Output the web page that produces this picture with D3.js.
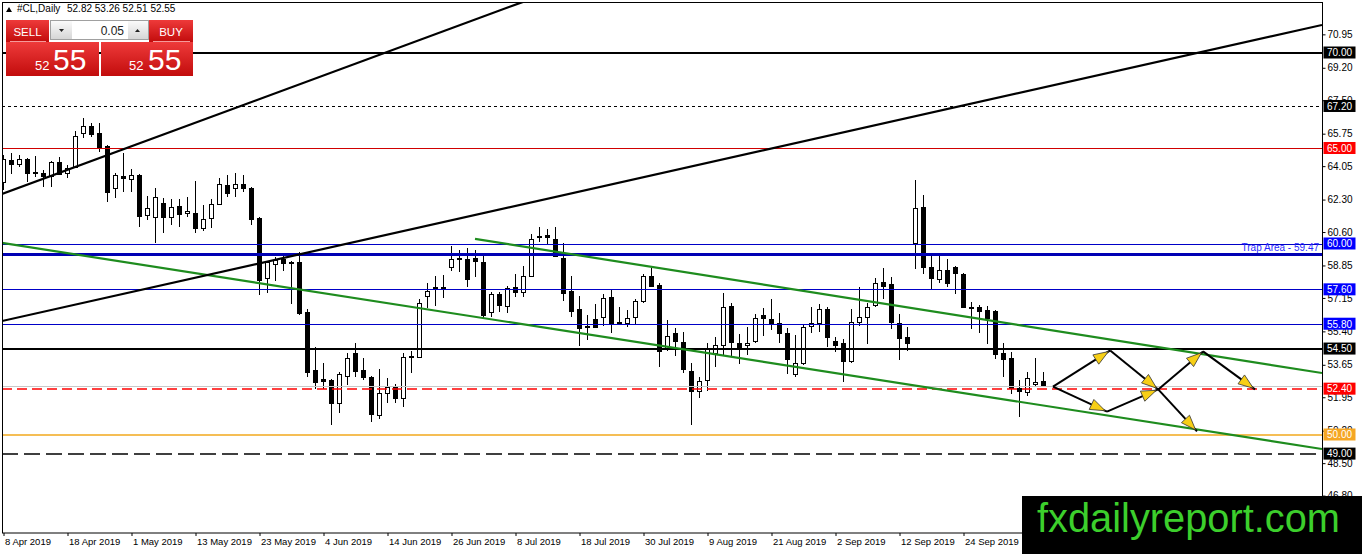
<!DOCTYPE html>
<meta charset="utf-8">
<script src="https://cdn.jsdelivr.net/npm/d3@7"></script>
<style>
body { margin: 0; background: #fff; }
svg { display: block; font-family: "Liberation Sans", Arial, sans-serif; }
</style>
<body>
<script>

var symbol = "#CL,Daily"

var opens = [63.22,64.37,64.16,64.42,63.74,63.69,63.53,64.27,63.69,64.01,
  65.79,66.15,65.79,65.10,62.91,63.53,63.38,63.59,61.49,61.39,
  62.12,61.39,61.96,61.60,61.60,60.81,61.34,62.07,63.06,62.91,
  63.12,62.91,61.34,58.19,58.93,59.19,59.03,59.03,56.41,53.38,
  52.91,52.85,51.65,53.06,54.27,53.38,53.01,51.02,52.17,52.49,
  51.91,54.11,54.06,57.25,57.72,57.72,58.77,59.24,59.19,59.24,
  59.03,56.41,57.36,56.73,57.72,57.46,58.30,60.39,60.45,60.24,
  59.24,57.51,56.57,55.68,56.05,56.15,57.20,55.89,55.84,56.15,
  56.99,58.30,57.83,54.53,55.31,54.84,53.32,52.28,52.85,54.27,
  54.69,56.73,54.79,54.69,54.89,56.26,56.05,55.84,55.31,53.17,
  53.74,55.68,55.84,56.57,54.89,54.79,53.85,55.89,56.15,56.78,
  57.98,57.88,55.84,55.10,60.03,61.91,58.77,58.14,58.61,58.77,
  58.40,56.67,56.67,56.52,56.47,54.27,54.00,52.43,52.22,52.64,
  52.82]
var highs = [64.63,64.74,64.63,64.47,64.58,63.85,64.32,64.53,64.11,65.89,
  66.57,66.31,66.31,65.15,63.69,64.74,63.90,63.64,62.49,62.91,
  62.38,62.33,62.33,62.43,63.27,62.02,62.33,63.43,63.59,63.69,
  63.59,62.96,61.39,59.08,59.29,59.40,59.08,59.56,56.57,54.58,
  53.74,52.90,53.27,54.27,54.79,54.00,53.06,53.43,52.96,52.64,
  54.27,54.37,57.09,57.93,58.30,58.35,59.87,59.66,59.76,59.66,
  59.40,57.46,57.46,57.77,58.40,58.82,60.50,60.86,60.76,60.86,
  60.03,58.30,57.25,56.26,56.83,57.36,57.62,56.67,56.52,57.09,
  58.40,58.72,57.93,55.99,55.58,55.37,53.74,53.01,54.79,55.10,
  57.41,56.89,55.26,55.63,56.31,56.62,57.09,56.36,55.58,55.21,
  55.73,56.67,56.83,56.67,55.10,55.00,56.57,57.72,56.89,58.19,
  58.72,58.25,56.31,55.63,63.33,62.54,59.40,59.40,59.19,58.82,
  58.46,56.94,56.78,56.73,56.52,54.79,54.32,52.85,53.27,54.00,
  53.26]
var lows = [62.80,63.64,64.01,63.22,63.48,62.96,62.96,63.59,63.43,63.95,
  65.52,65.58,64.79,62.17,62.38,62.70,62.70,60.86,61.23,60.03,
  60.55,60.97,60.86,61.39,60.55,60.66,60.81,62.02,62.43,62.43,
  62.70,60.97,57.30,57.41,58.04,58.56,56.83,56.26,53.01,52.38,
  52.38,50.50,51.12,52.59,53.01,52.85,50.65,50.81,51.65,51.65,
  51.44,53.22,54.00,56.62,56.73,57.15,58.56,58.51,57.72,58.25,
  56.05,56.15,56.41,56.36,57.20,57.20,58.25,60.08,59.92,59.29,
  56.99,56.15,54.63,54.95,55.58,55.68,55.31,55.79,55.63,55.78,
  56.89,57.72,53.53,54.37,54.11,53.22,50.50,51.91,52.28,53.53,
  54.16,54.06,53.69,54.16,54.79,55.16,55.47,54.79,53.17,53.01,
  53.64,55.31,55.37,54.58,54.32,52.75,53.74,55.68,54.74,56.67,
  57.09,55.52,53.90,54.37,58.66,58.40,57.62,57.93,57.72,57.36,
  56.62,55.52,55.31,54.74,53.95,53.01,52.12,50.92,52.01,52.49,
  52.51]
var closes = [64.42,64.16,64.42,63.69,63.69,63.53,64.27,63.64,63.95,65.63,
  66.15,65.73,65.05,62.70,63.59,63.43,63.59,61.44,61.86,62.43,
  61.39,61.91,61.55,61.70,60.81,61.28,62.07,63.12,62.64,63.12,
  62.91,61.28,58.09,59.03,59.14,58.98,58.98,56.36,53.27,52.75,
  52.80,51.65,53.17,54.00,53.32,53.01,51.07,52.17,52.49,51.91,
  54.06,54.06,56.89,57.51,57.67,57.67,59.19,59.19,58.14,59.08,
  56.26,57.36,56.78,57.67,57.46,58.30,60.24,60.34,60.34,59.35,
  57.41,56.47,55.58,55.63,55.63,57.15,55.84,55.84,56.10,56.99,
  58.30,57.77,54.37,55.16,54.89,53.43,52.28,52.80,54.48,54.69,
  56.67,54.84,54.53,54.79,56.10,56.10,55.78,55.31,53.95,53.74,
  55.63,55.84,56.57,55.10,54.69,53.85,55.89,56.15,56.67,57.93,
  57.77,55.89,55.05,54.79,61.86,58.77,58.19,58.61,57.93,58.46,
  56.67,56.62,56.47,56.10,54.21,53.95,52.43,52.28,52.96,52.75,
  52.55]

var dateTickBars = [0, 8, 16, 24, 32, 40, 48, 56, 64, 72, 80, 88, 96, 104, 112, 120]
var dateTickLabels = ["8 Apr 2019", "18 Apr 2019", "1 May 2019", "13 May 2019", "23 May 2019",
  "4 Jun 2019", "14 Jun 2019", "26 Jun 2019", "8 Jul 2019", "18 Jul 2019", "30 Jul 2019",
  "9 Aug 2019", "21 Aug 2019", "2 Sep 2019", "12 Sep 2019", "24 Sep 2019"]
var priceTicks = [70.95, 69.20, 67.50, 65.75, 64.05, 62.30, 60.60, 58.85, 57.15, 55.40,
  53.65, 51.95, 50.20, 48.50, 46.80]

var levelPrices = [70.00, 67.20, 65.00, 60.00, 59.47, 57.60, 55.80, 54.50, 52.40, 50.00, 49.00]
var levelKinds = ["black", "dotted", "red", "blue", "trap", "blue", "blue", "black", "reddash", "orange", "blackdash"]
var trapText = "Trap Area - 59.47"

// trend lines as [bar, price] pairs
var blackTrends = [[[-0.125, 62.59], [65, 72.65]], [[-0.125, 55.94], [164.875, 71.44]]]
var greenTrends = [[[-0.125, 60.03], [164.875, 49.24]], [[59, 60.24], [164.875, 53.22]]]

// projected path, [bar, price]
var pathA = [131.25, 52.51], pathB = [138.4, 54.40], pathC = [138, 51.20], pathD = [144.4, 52.36]
var pathE = [150, 54.35], pathF = [156.5, 52.36], pathG = [149.25, 50.16]
var arrows = [[pathA, pathB], [pathA, pathC], [pathB, pathD], [pathC, pathD],
  [pathD, pathE], [pathE, pathF], [pathD, pathG]]

var width = 1362
var height = 554

var x = d3.scaleLinear().domain([0, 100]).range([3, 803])
var y = d3.scaleLinear().domain([49, 70]).range([453.6, 52.5])

var svg = d3.select("body").append("svg")
  .attr("width", width)
  .attr("height", height)

var defs = svg.append("defs")
defs.append("clipPath").attr("id", "plot")
  .append("rect").attr("x", 2).attr("y", 2).attr("width", 1320).attr("height", 531)
var rg = defs.append("linearGradient").attr("id", "redg").attr("x1", 0).attr("y1", 0).attr("x2", 0).attr("y2", 1)
rg.append("stop").attr("offset", "0%").attr("stop-color", "#ee3a3a")
rg.append("stop").attr("offset", "100%").attr("stop-color", "#c20c0c")
var gg = defs.append("linearGradient").attr("id", "grayg").attr("x1", 0).attr("y1", 0).attr("x2", 0).attr("y2", 1)
gg.append("stop").attr("offset", "0%").attr("stop-color", "#fafafa")
gg.append("stop").attr("offset", "100%").attr("stop-color", "#d6d6d6")

var plot = svg.append("g").attr("clip-path", "url(#plot)")

// candles
var bars = d3.range(opens.length)
plot.append("g").selectAll("line").data(bars).join("line")
  .attr("x1", function(i) { return x(i) + 0.5 })
  .attr("x2", function(i) { return x(i) + 0.5 })
  .attr("y1", function(i) { return y(highs[i]) })
  .attr("y2", function(i) { return y(lows[i]) })
  .attr("stroke", "#000")
  .attr("shape-rendering", "crispEdges")

plot.append("g").selectAll("rect").data(bars).join("rect")
  .attr("x", function(i) { return x(i) - 1.5 })
  .attr("width", 4)
  .attr("y", function(i) { return Math.round(y(Math.max(opens[i], closes[i]))) + 0.5 })
  .attr("height", function(i) { return Math.max(1, Math.abs(y(opens[i]) - y(closes[i]))) })
  .attr("fill", function(i) { return closes[i] >= opens[i] ? "#fff" : "#000" })
  .attr("stroke", "#000")
  .attr("shape-rendering", "crispEdges")

// horizontal levels
var kindStyle = {
  black: { c: "#000", w: 2 },
  dotted: { c: "#000", w: 1, d: "3,3" },
  red: { c: "#d00000", w: 1 },
  blue: { c: "#0000c8", w: 1 },
  trap: { c: "#0000b4", w: 3 },
  reddash: { c: "#ff0000", w: 1.4, d: "10,5" },
  orange: { c: "#f2a81c", w: 1.5 },
  blackdash: { c: "#000", w: 1.5, d: "16,6" }
}
function levelY(d, i) {
  var w = kindStyle[levelKinds[i]].w
  return w == 1 || w == 3 ? Math.round(y(d)) + 0.5 : Math.round(y(d))
}
plot.append("line")
  .attr("x1", 2).attr("x2", 1322)
  .attr("y1", Math.round(y(closes[closes.length - 1])) + 0.5)
  .attr("y2", Math.round(y(closes[closes.length - 1])) + 0.5)
  .attr("stroke", "#c8c8c8")

plot.append("g").selectAll("line").data(levelPrices).join("line")
  .attr("x1", 2).attr("x2", 1322)
  .attr("y1", levelY)
  .attr("y2", levelY)
  .attr("stroke", function(d, i) { return kindStyle[levelKinds[i]].c })
  .attr("stroke-width", function(d, i) { return kindStyle[levelKinds[i]].w })
  .attr("stroke-dasharray", function(d, i) { return kindStyle[levelKinds[i]].d || null })

svg.append("text")
  .attr("x", 1319).attr("y", y(59.47) - 3)
  .attr("text-anchor", "end")
  .style("font-size", "10px")
  .attr("fill", "#2a2aff")
  .text(trapText)

// trend lines
var tline = d3.line().x(function(d) { return x(d[0]) }).y(function(d) { return y(d[1]) })
plot.append("g").selectAll("path").data(greenTrends).join("path")
  .attr("d", tline).attr("stroke", "#1e8c1e").attr("stroke-width", 2.2).attr("fill", "none")
plot.append("g").selectAll("path").data(blackTrends).join("path")
  .attr("d", tline).attr("stroke", "#000").attr("stroke-width", 2.2).attr("fill", "none")

// arrows
var ag = plot.append("g")
arrows.forEach(function(a) {
  var x1 = x(a[0][0]), y1 = y(a[0][1]), x2 = x(a[1][0]), y2 = y(a[1][1])
  ag.append("line").attr("x1", x1).attr("y1", y1).attr("x2", x2).attr("y2", y2)
    .attr("stroke", "#000").attr("stroke-width", 2)
  var ang = Math.atan2(y2 - y1, x2 - x1)
  var len = 15, hw = 5.5
  var tx = x2 - Math.cos(ang) * 2, ty = y2 - Math.sin(ang) * 2
  var bx = tx - Math.cos(ang) * len, by = ty - Math.sin(ang) * len
  var px = -Math.sin(ang) * hw, py = Math.cos(ang) * hw
  ag.append("path")
    .attr("d", "M" + tx + "," + ty + "L" + (bx + px) + "," + (by + py) + "L" + (bx - px) + "," + (by - py) + "Z")
    .attr("fill", "#f7cf16").attr("stroke", "#333").attr("stroke-width", 0.8)
})

// frame
svg.append("rect")
  .attr("x", 2.5).attr("y", 2.5).attr("width", 1320).attr("height", 530.5)
  .attr("fill", "none").attr("stroke", "#000")

// price axis
var yAxis = svg.append("g")
  .attr("transform", "translate(1322.5,0)")
  .call(d3.axisRight(y).tickValues(priceTicks).tickFormat(d3.format(".2f")).tickSize(3).tickPadding(2))
yAxis.select(".domain").remove()
yAxis.selectAll("text").style("font-size", "10px").style("font-family", "Liberation Sans, Arial, sans-serif").attr("fill", "#000")
yAxis.selectAll("line").attr("stroke", "#000")

// date axis
var xAxis = svg.append("g")
  .attr("transform", "translate(0.5,533)")
  .call(d3.axisBottom(x).tickValues(dateTickBars).tickFormat(function(d, i) { return dateTickLabels[i] }).tickSize(3).tickPadding(2))
xAxis.select(".domain").remove()
xAxis.selectAll("text").attr("text-anchor", "start").attr("x", 1)
  .style("font-size", "9.5px").style("font-family", "Liberation Sans, Arial, sans-serif").attr("fill", "#000")
xAxis.selectAll("line").attr("stroke", "#000")

// price tags
var tagColor = { black: "#000", dotted: "#000", red: "#ff0000", reddash: "#ff0000", blue: "#0000ff", orange: "#f5a623", blackdash: "#000" }
var tags = svg.append("g").selectAll("g").data(d3.range(levelPrices.length).filter(function(i) { return levelKinds[i] != "trap" }))
  .join("g")
tags.append("rect")
  .attr("x", 1323.5).attr("width", 32).attr("height", 12)
  .attr("y", function(i) { return y(levelPrices[i]) - 6 })
  .attr("fill", function(i) { return tagColor[levelKinds[i]] })
tags.append("text")
  .attr("x", 1327).attr("y", function(i) { return y(levelPrices[i]) + 3.8 })
  .style("font-size", "10px").attr("fill", "#fff")
  .text(function(i) { return levelPrices[i].toFixed(2) })

// header
var last = opens.length - 1
svg.append("path").attr("d", "M6,12L12,12L9,7Z").attr("fill", "#000")
svg.append("text").attr("x", 17).attr("y", 12).style("font-size", "10px").attr("fill", "#000")
  .text(symbol)
svg.append("text").attr("x", 67).attr("y", 12).style("font-size", "10px").attr("fill", "#000")
  .text([opens[last], highs[last], lows[last], closes[last]].map(function(v) { return v.toFixed(2) }).join(" "))

// trade panel
var panel = svg.append("g")
panel.append("rect").attr("x", 6).attr("y", 20).attr("width", 43).attr("height", 22).attr("fill", "url(#redg)")
panel.append("rect").attr("x", 149).attr("y", 20).attr("width", 44).attr("height", 22).attr("fill", "url(#redg)")
panel.append("rect").attr("x", 6).attr("y", 42).attr("width", 93).attr("height", 34).attr("fill", "url(#redg)")
panel.append("rect").attr("x", 101).attr("y", 42).attr("width", 92).attr("height", 34).attr("fill", "url(#redg)")
panel.append("line").attr("x1", 10).attr("x2", 46).attr("y1", 41.5).attr("y2", 41.5).attr("stroke", "#f59a9a")
panel.append("line").attr("x1", 153).attr("x2", 190).attr("y1", 41.5).attr("y2", 41.5).attr("stroke", "#f59a9a")
panel.append("rect").attr("x", 50.5).attr("y", 20.5).attr("width", 98).attr("height", 19).attr("fill", "#fff").attr("stroke", "#a0a0a0")
panel.append("rect").attr("x", 51).attr("y", 21).attr("width", 21).attr("height", 18).attr("fill", "url(#grayg)")
panel.append("rect").attr("x", 128).attr("y", 21).attr("width", 20).attr("height", 18).attr("fill", "url(#grayg)")
panel.append("path").attr("d", "M59,29L64,29L61.5,32Z").attr("fill", "#222")
panel.append("path").attr("d", "M135,32L140,32L137.5,29Z").attr("fill", "#222")
panel.append("text").attr("x", 124).attr("y", 35).attr("text-anchor", "end").style("font-size", "12px").attr("fill", "#222").text("0.05")
panel.append("text").attr("x", 27.5).attr("y", 36).attr("text-anchor", "middle").style("font-size", "11.5px").attr("fill", "#fff").text("SELL")
panel.append("text").attr("x", 171).attr("y", 36).attr("text-anchor", "middle").style("font-size", "11.5px").attr("fill", "#fff").text("BUY")
var pr = closes[last].toFixed(2).split(".")
;[[35, 53], [129, 148]].forEach(function(p) {
  panel.append("text").attr("x", p[0]).attr("y", 70).style("font-size", "13px").attr("fill", "#fff").text(pr[0])
  panel.append("text").attr("x", p[1]).attr("y", 70).style("font-size", "30px").attr("fill", "#fff").text(pr[1])
})

// watermark
svg.append("rect").attr("x", 1022).attr("y", 496).attr("width", 340).attr("height", 58).attr("fill", "#000")
svg.append("text").attr("x", 1037).attr("y", 532)
  .style("font-size", "40px").attr("fill", "#3ccf2c")
  .attr("textLength", 303).attr("lengthAdjust", "spacingAndGlyphs")
  .text("fxdailyreport.com")

</script>
</body>
